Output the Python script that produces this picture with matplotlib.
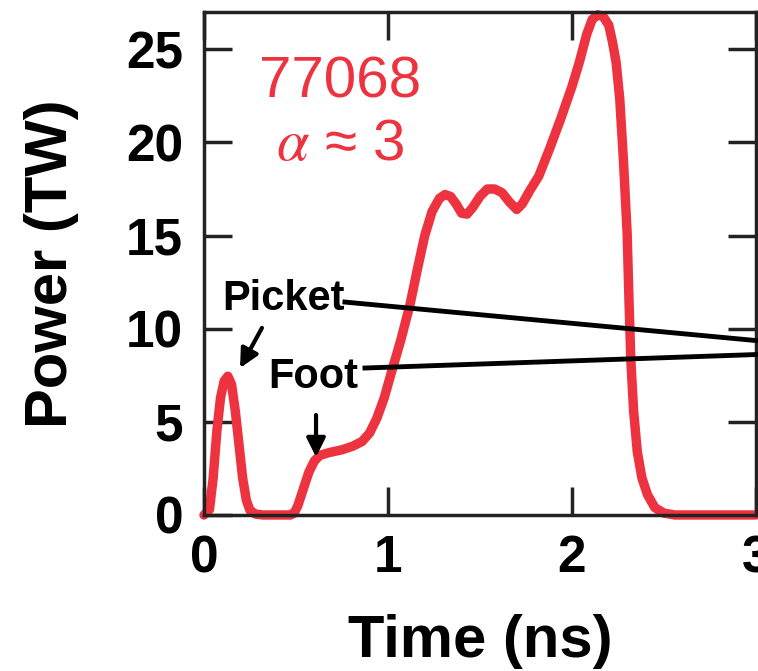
import matplotlib
matplotlib.use("Agg")
import matplotlib.pyplot as plt

plt.rcParams['font.family'] = ['Liberation Sans', 'DejaVu Sans']
plt.rcParams['mathtext.fontset'] = 'stix'

# Pulse shape (time in ns, power in TW)
time_ns = [0.0, 0.03, 0.05, 0.07, 0.09, 0.11, 0.13, 0.15, 0.17, 0.19,
           0.21, 0.23, 0.25, 0.28, 0.32, 0.47, 0.49, 0.51, 0.54, 0.57,
           0.60, 0.63, 0.68, 0.75, 0.81, 0.86, 0.90, 0.94, 0.98, 1.02,
           1.07, 1.12, 1.16, 1.20, 1.24, 1.28, 1.31, 1.34, 1.37, 1.40,
           1.43, 1.46, 1.50, 1.54, 1.58, 1.62, 1.66, 1.70, 1.73, 1.77,
           1.82, 1.88, 1.94, 2.00, 2.04, 2.08, 2.11, 2.14, 2.17, 2.20,
           2.22, 2.24, 2.26, 2.28, 2.30, 2.31, 2.32, 2.335, 2.355, 2.38,
           2.41, 2.45, 2.50, 2.56, 3.0]
power_tw = [0.0, 0.3, 2.0, 4.5, 6.3, 7.2, 7.45, 7.0, 5.6, 3.8,
            2.0, 0.8, 0.25, 0.05, 0.0, 0.0, 0.1, 0.5, 1.4, 2.3,
            2.9, 3.2, 3.35, 3.5, 3.7, 3.95, 4.4, 5.2, 6.3, 7.7,
            9.4, 11.3, 13.2, 15.0, 16.3, 17.0, 17.2, 17.1, 16.7, 16.2,
            16.15, 16.5, 17.1, 17.5, 17.5, 17.3, 16.8, 16.4, 16.7, 17.4,
            18.2, 19.7, 21.3, 23.0, 24.3, 25.8, 26.6, 26.85, 26.75, 26.3,
            25.4, 24.3, 22.3, 19.0, 15.1, 11.5, 8.3, 5.6, 3.4, 2.0,
            1.1, 0.4, 0.1, 0.0, 0.0]

x_ticks = [0, 1, 2, 3]
y_ticks = [0, 5, 10, 15, 20, 25]
shot_label = "77068"
alpha_label = r"$\alpha$ ≈ 3"

red = '#EE3340'

fig = plt.figure(figsize=(7.58, 6.71), dpi=100)
ax = fig.add_axes([0.2691, 0.2325, 0.7282, 0.7496])

ax.plot(time_ns, power_tw, color=red, lw=6.8, solid_joinstyle='round',
        solid_capstyle='round', clip_on=False, zorder=2)

ax.set_xlim(0, 3)
ax.set_ylim(0, 27)
ax.set_xticks(x_ticks)
ax.set_yticks(y_ticks)
ax.tick_params(direction='in', length=20, width=2.5, top=True, right=True,
               labelsize=37, color='#222222')
ax.tick_params(axis='y', pad=15)
ax.tick_params(axis='x', pad=14)
for lab in ax.get_xticklabels() + ax.get_yticklabels():
    lab.set_fontweight('bold')
for sp in ax.spines.values():
    sp.set_linewidth(2.5)
    sp.set_color('#222222')

ax.set_xlabel('Time (ns)', fontsize=43, fontweight='bold', labelpad=22)
ax.set_ylabel('Power (TW)', fontsize=43, fontweight='bold', labelpad=34)

ax.text(0.739, 23.24, shot_label, color=red, fontsize=42, ha='center', va='center')
ax.text(0.739, 19.86, alpha_label, color=red, fontsize=42, ha='center', va='center')

# annotations
ax.text(0.43, 11.0, 'Picket', fontsize=30, fontweight='bold', ha='center', va='baseline')
ax.text(0.595, 6.82, 'Foot', fontsize=30, fontweight='bold', ha='center', va='baseline')

ax.plot([0.766, 3.08], [11.43, 9.29], color='black', lw=3.5, clip_on=False, zorder=4)
ax.plot([0.875, 3.08], [7.89, 8.64], color='black', lw=3.5, clip_on=False, zorder=4)

ax.annotate('', xy=(0.196, 7.89), xytext=(0.315, 10.04),
            arrowprops=dict(arrowstyle='-|>', color='black', lw=3, mutation_scale=28,
                            shrinkA=0, shrinkB=0))
ax.annotate('', xy=(0.609, 3.11), xytext=(0.609, 5.37),
            arrowprops=dict(arrowstyle='-|>', color='black', lw=3, mutation_scale=28,
                            shrinkA=0, shrinkB=0))

fig.savefig('out.png', dpi=100)
